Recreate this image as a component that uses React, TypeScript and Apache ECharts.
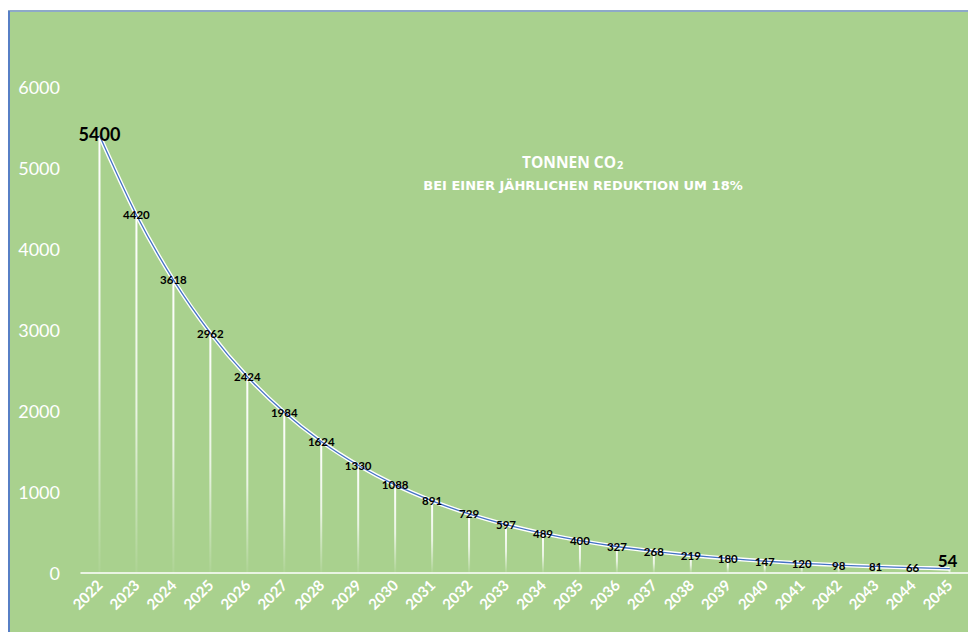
import React, { useEffect, useRef } from "react";
import * as echarts from "echarts";

const years = ["2022","2023","2024","2025","2026","2027","2028","2029","2030","2031","2032","2033","2034","2035","2036","2037","2038","2039","2040","2041","2042","2043","2044","2045"];
const tonnes = [5400,4420,3618,2962,2424,1984,1624,1330,1088,891,729,597,489,400,327,268,219,180,147,120,98,81,66,54];
const titleMain = "TONNEN CO";
const titleSub = "BEI EINER JÄHRLICHEN REDUKTION UM 18%";

const FONT = "Lato, 'Open Sans', sans-serif";
const TFONT = "'Open Sans', Lato, sans-serif";
const SFONT = "'DejaVu Sans', 'Open Sans', sans-serif";

export default function App() {
  const ref = useRef<HTMLDivElement>(null);
  useEffect(() => {
    const chart = echarts.init(ref.current!, null, { renderer: "svg" });
    const lastIdx = tonnes.length - 1;
    const lineData = tonnes.map((v, i) => {
      if (i === 0) {
        return { value: v, label: { fontSize: 18, offset: [0, -2] } };
      }
      if (i === lastIdx) {
        return { value: v, label: { fontSize: 17, offset: [-2, -8] } };
      }
      return v;
    });
    chart.setOption({
      animation: false,
      backgroundColor: "#ffffff",
      graphic: [
        {
          type: "rect",
          z: -10,
          shape: { x: 9, y: 11, width: 970, height: 630 },
          style: { fill: "#A9D18E", stroke: "#8EA9C8", lineWidth: 2 },
          silent: true,
        },
        {
          type: "line",
          z: -9,
          shape: { x1: 9, y1: 11, x2: 9, y2: 640 },
          style: { stroke: "#4472C4", lineWidth: 1.5 },
          silent: true,
        },
        {
          type: "text",
          x: 522,
          y: 154,
          style: {
            text: "{m|" + titleMain + "}{s|2}",
            rich: {
              m: { fill: "#ffffff", fontSize: 15.5, fontWeight: "bold", fontFamily: TFONT },
              s: { fill: "#ffffff", fontSize: 11, fontWeight: "bold", fontFamily: TFONT, padding: [5, 0, 0, 1] },
            },
          },
        },
        {
          type: "text",
          x: 583,
          y: 185,
          style: {
            text: titleSub,
            fill: "#ffffff",
            fontSize: 13,
            fontWeight: "bold",
            fontFamily: SFONT,
            align: "center",
            verticalAlign: "middle",
          },
        },
      ],
      grid: { left: 81, top: 87, width: 888, height: 486, containLabel: false },
      xAxis: {
        type: "category",
        data: years,
        boundaryGap: true,
        axisLine: { show: true, lineStyle: { color: "#ffffff", width: 1.5 } },
        axisTick: { show: false },
        axisLabel: {
          color: "#ffffff",
          fontSize: 15,
          fontWeight: "bold",
          fontFamily: FONT,
          rotate: 45,
          margin: 9,
          interval: 0,
        },
        splitLine: { show: false },
      },
      yAxis: {
        type: "value",
        min: 0,
        max: 6000,
        interval: 1000,
        axisLine: { show: false },
        axisTick: { show: false },
        splitLine: { show: false },
        axisLabel: {
          color: "#ffffff",
          fontSize: 18,
          fontFamily: FONT,
          margin: 21,
          formatter: (v: number) => String(v),
        },
      },
      series: [
        {
          type: "bar",
          data: tonnes,
          barWidth: 2,
          silent: true,
          itemStyle: {
            color: new echarts.graphic.LinearGradient(0, 0, 0, 1, [
              { offset: 0, color: "rgba(255,255,255,1)" },
              { offset: 0.55, color: "rgba(255,255,255,0.75)" },
              { offset: 1, color: "rgba(255,255,255,0.05)" },
            ]),
          },
          z: 1,
        },
        {
          type: "line",
          data: tonnes,
          smooth: 0.25,
          showSymbol: false,
          silent: true,
          lineStyle: { color: "#ffffff", width: 4 },
          z: 2,
        },
        {
          type: "line",
          data: lineData,
          smooth: 0.25,
          showSymbol: true,
          symbol: "circle",
          symbolSize: 1,
          itemStyle: { color: "#4472C4" },
          lineStyle: { color: "#4472C4", width: 1.3 },
          label: {
            show: true,
            position: "inside",
            color: "#000000",
            fontSize: 11.5,
            fontWeight: "bold",
            fontFamily: FONT,
          },
          z: 3,
        },
      ],
    });
    return () => chart.dispose();
  }, []);
  return (
    <div
      ref={ref}
      style={{ position: "absolute", left: 0, top: 0, width: 968, height: 632 }}
    />
  );
}
